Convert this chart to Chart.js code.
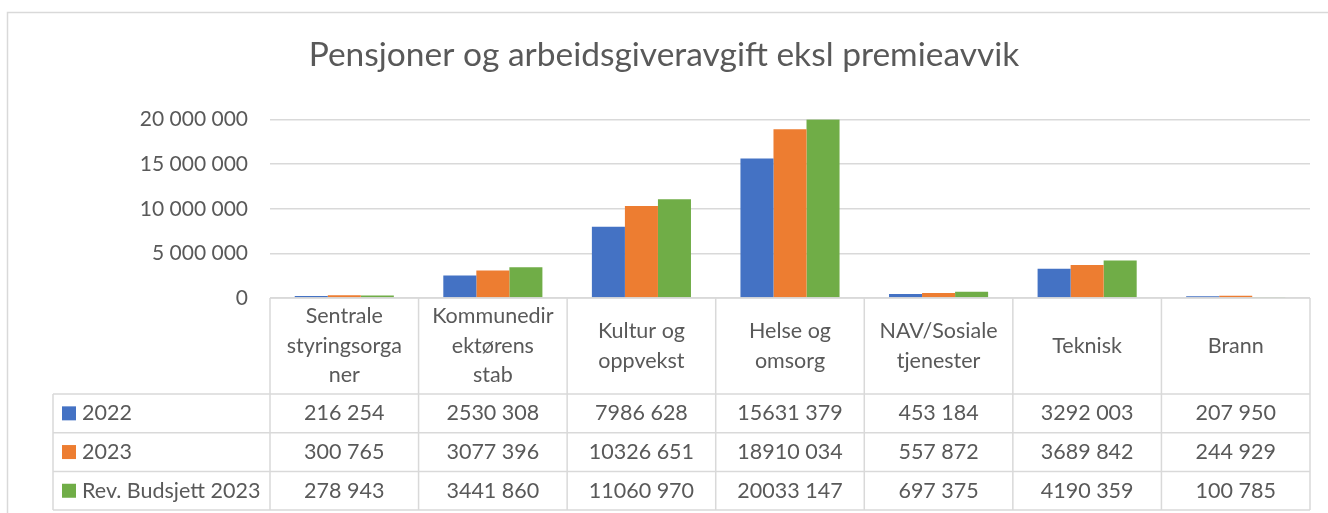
<!DOCTYPE html>
<html>
<head>
<meta charset="utf-8">
<script src="https://cdn.jsdelivr.net/npm/chart.js@4"></script>
<style>
  body { margin: 0; background: #fff; }
  #wrap { width: 1328px; height: 513px; position: relative; }
</style>
</head>
<body>
<div id="wrap"><canvas id="pensjonChart"></canvas></div>
<script>
const ctx = document.getElementById('pensjonChart').getContext('2d');

const categories = [
    ['Sentrale', 'styringsorga', 'ner'],
    ['Kommunedir', 'ektørens', 'stab'],
    ['Kultur og', 'oppvekst'],
    ['Helse og', 'omsorg'],
    ['NAV/Sosiale', 'tjenester'],
    ['Teknisk'],
    ['Brann']
];
const seriesNames = ['2022', '2023', 'Rev. Budsjett 2023'];
const values2022 = [216254, 2530308, 7986628, 15631379, 453184, 3292003, 207950];
const values2023 = [300765, 3077396, 10326651, 18910034, 557872, 3689842, 244929];
const valuesBudsjett = [278943, 3441860, 11060970, 20033147, 697375, 4190359, 100785];
const yTicks = [0, 5000000, 10000000, 15000000, 20000000];

const colors = ['#4472C4', '#ED7D31', '#70AD47'];
const textColor = '#595959';
const lineColor = '#d9d9d9';
const fontFamily = 'Lato, "Open Sans", sans-serif';

function groupThousands(v) {
    return String(v).replace(/\B(?=(\d{3})+(?!\d))/g, ' ');
}
// the table uses a "#### ###" style format, only one separator
function tableFormat(v) {
    const s = String(v);
    return s.length > 3 ? s.slice(0, -3) + ' ' + s.slice(-3) : s;
}

// outer frame of the Excel chart object
const framePlugin = {
    id: 'frame',
    beforeDraw(chart) {
        const c = chart.ctx;
        c.save();
        c.strokeStyle = lineColor;
        c.lineWidth = 1.5;
        c.beginPath();
        c.moveTo(7.5, chart.height);
        c.lineTo(7.5, 12.5);
        c.lineTo(chart.width, 12.5);
        c.stroke();
        c.restore();
    }
};

// data table under the plot, like Excel's "data table with legend keys"
const dataTablePlugin = {
    id: 'dataTable',
    afterDraw(chart) {
        const c = chart.ctx;
        const xs = chart.scales.x;
        const area = chart.chartArea;
        const n = categories.length;
        const colW = (xs.right - xs.left) / n;
        const headerH = 96;
        const rowH = 38.7;
        const top = area.bottom;
        const rowTop = top + headerH;
        const bottom = rowTop + rowH * seriesNames.length;
        const legendLeft = 53;

        c.save();
        c.strokeStyle = lineColor;
        c.lineWidth = 1.5;
        c.beginPath();
        // horizontal lines
        c.moveTo(xs.left, top); c.lineTo(xs.right, top);
        for (let r = 0; r <= seriesNames.length; r++) {
            const y = rowTop + r * rowH;
            c.moveTo(legendLeft, y); c.lineTo(xs.right, y);
        }
        // vertical lines
        c.moveTo(legendLeft, rowTop); c.lineTo(legendLeft, bottom);
        for (let i = 0; i <= n; i++) {
            const x = xs.left + i * colW;
            c.moveTo(x, top); c.lineTo(x, bottom);
        }
        c.stroke();

        c.fillStyle = textColor;
        c.font = '21.5px ' + fontFamily;
        c.textAlign = 'center';
        c.textBaseline = 'middle';
        const lineH = 29.5;
        categories.forEach((lines, i) => {
            const cx = xs.getPixelForValue(i);
            const y0 = top + headerH / 2 - (lines.length - 1) * lineH / 2;
            lines.forEach((t, k) => c.fillText(t, cx, y0 + k * lineH));
        });

        chart.data.datasets.forEach((ds, r) => {
            const cy = rowTop + r * rowH + rowH / 2;
            c.fillStyle = textColor;
            c.textAlign = 'center';
            ds.data.forEach((v, i) => {
                c.fillText(tableFormat(v), xs.getPixelForValue(i), cy);
            });
            c.fillStyle = ds.backgroundColor;
            c.fillRect(legendLeft + 9, cy - 7, 14, 14);
            c.fillStyle = textColor;
            c.textAlign = 'left';
            c.fillText(ds.label, legendLeft + 29, cy);
        });
        c.restore();
    }
};

const data = {
    labels: categories,
    datasets: [
        { label: seriesNames[0], data: values2022, backgroundColor: colors[0] },
        { label: seriesNames[1], data: values2023, backgroundColor: colors[1] },
        { label: seriesNames[2], data: valuesBudsjett, backgroundColor: colors[2] }
    ]
};

const config = {
    type: 'bar',
    data: data,
    options: {
        responsive: true,
        maintainAspectRatio: false,
        animation: false,
        datasets: {
            bar: {
                categoryPercentage: 0.667,
                barPercentage: 1.0,
                borderWidth: 0
            }
        },
        layout: {
            padding: { left: 18, right: 18, top: 0, bottom: 215 }
        },
        scales: {
            x: {
                display: false
            },
            y: {
                min: 0,
                max: 20000000,
                afterBuildTicks: function(scale) {
                    scale.ticks = yTicks.map(v => ({ value: v }));
                },
                afterFit: function(scale) {
                    scale.width = 252;
                },
                border: { display: false },
                grid: {
                    color: lineColor,
                    lineWidth: 1.5,
                    drawTicks: false
                },
                ticks: {
                    padding: 22,
                    color: textColor,
                    font: { family: fontFamily, size: 21 },
                    callback: function(value) {
                        return groupThousands(value);
                    }
                }
            }
        },
        plugins: {
            legend: { display: false },
            tooltip: { enabled: false },
            title: {
                display: true,
                text: 'Pensjoner og arbeidsgiveravgift eksl premieavvik',
                color: textColor,
                font: { family: fontFamily, size: 33.5, weight: 'normal', lineHeight: 1.2 },
                padding: { top: 35, bottom: 44.4 }
            }
        }
    },
    plugins: [framePlugin, dataTablePlugin]
};

const myChart = new Chart(ctx, config);
</script>
</body>
</html>
